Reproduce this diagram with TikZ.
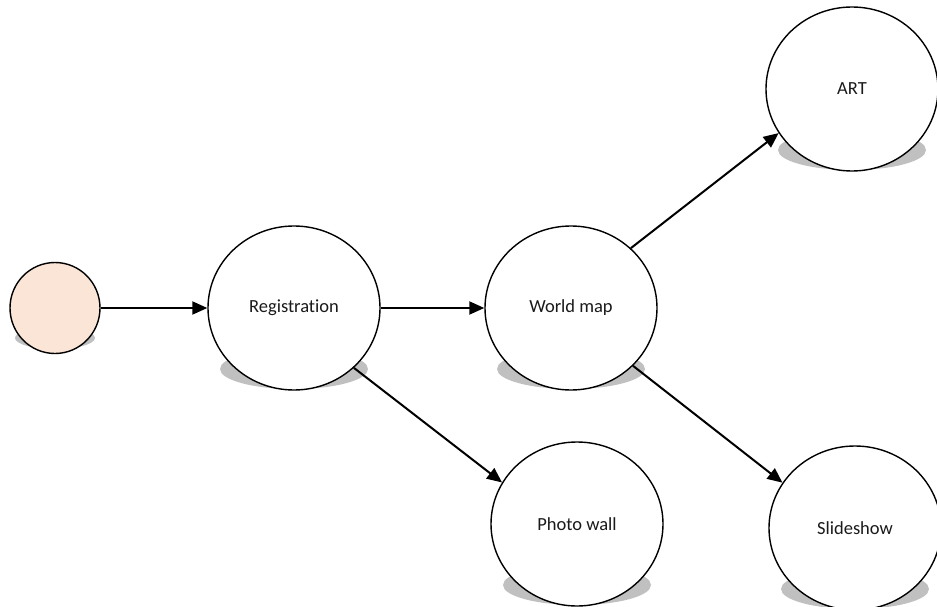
\documentclass[tikz,border=0pt]{standalone}
\usepackage{fontspec}
\setmainfont{Carlito}[Ligatures=NoCommon]
\usetikzlibrary{shapes.geometric,arrows.meta,backgrounds}
\definecolor{peach}{HTML}{FBE5D6}
\definecolor{shadowgray}{HTML}{C0C0C0}
\definecolor{inktext}{HTML}{1A1A1A}
\tikzset{
  bubble/.style={ellipse, draw=black, line width=1.4pt, fill=white, inner sep=0pt,
    minimum width=172pt, minimum height=164pt, text=inktext, font=\fontsize{18.5}{22}\selectfont},
  startdot/.style={ellipse, draw=black, line width=1.4pt, fill=peach, inner sep=0pt,
    minimum width=90pt, minimum height=91pt},
  link/.style={line width=2pt, -{Triangle[length=15pt,width=13pt]}},
  shade/.style={fill=shadowgray}
}
\begin{document}
\begin{tikzpicture}[x=1pt,y=-1pt]
\useasboundingbox (0,0) rectangle (937,607);
\node[startdot] (start) at (55,308) {};
\node[bubble] (reg) at (294,308) {Registration};
\node[bubble] (wm) at (571,308) {World map};
\node[bubble] (art) at (852,89) {ART};
\node[bubble] (photo) at (577,524) {Photo wall};
\node[bubble] (slide) at (855,528) {Slideshow};
\begin{scope}[on background layer]
  \fill[shade] ([yshift=-30pt]start.center) ellipse (40pt and 11pt);
  \fill[shade] ([yshift=-61pt]reg.center) ellipse (74pt and 20pt);
  \fill[shade] ([yshift=-61pt]wm.center) ellipse (74pt and 20pt);
  \fill[shade] ([yshift=-61pt]art.center) ellipse (74pt and 20pt);
  \fill[shade] ([yshift=-61pt]photo.center) ellipse (74pt and 20pt);
  \fill[shade] ([yshift=-61pt]slide.center) ellipse (74pt and 20pt);
\end{scope}
\draw[link] (start.east) -- (reg.west);
\draw[link] (reg.east) -- (wm.west);
\draw[link] (wm.45) -- (art.-149);
\draw[link] (reg.-45) -- (photo.151);
\draw[link] (wm.-43) -- (slide.148);
\end{tikzpicture}
\end{document}
